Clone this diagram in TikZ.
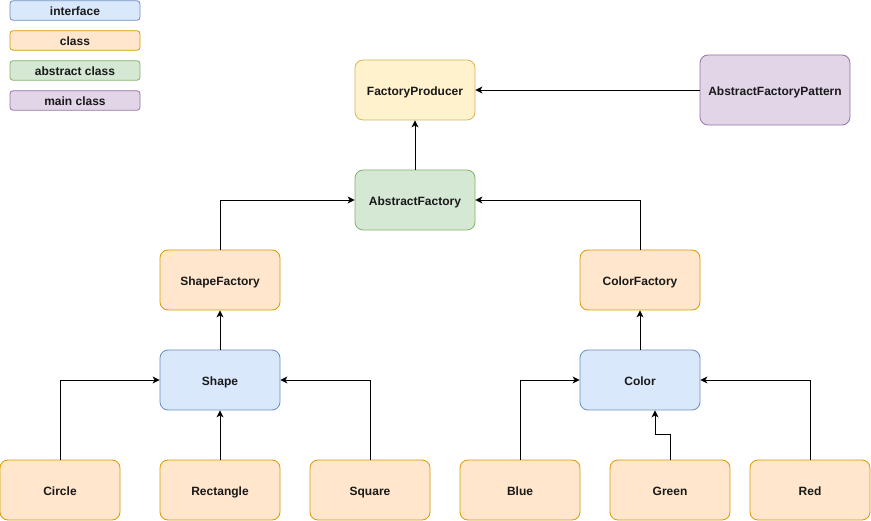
\documentclass[tikz,border=0pt]{standalone}
\usepackage{fontspec}
\setmainfont{Liberation Sans}
\usetikzlibrary{arrows.meta}
\definecolor{ifill}{HTML}{DAE8FC}\definecolor{iline}{HTML}{6C8EBF}
\definecolor{cfill}{HTML}{FFE6CC}\definecolor{cline}{HTML}{D79B00}
\definecolor{afill}{HTML}{D5E8D4}\definecolor{aline}{HTML}{82B366}
\definecolor{mfill}{HTML}{E1D5E7}\definecolor{mline}{HTML}{9673A6}
\definecolor{pfill}{HTML}{FFF2CC}\definecolor{pline}{HTML}{D6B656}
\begin{document}
\begin{tikzpicture}[x=1pt,y=-1pt,
  label text/.style={font=\fontsize{12}{14}\selectfont\bfseries,text=black!90,
    text height=10.8pt,text depth=0.6pt},
  box/.style={rounded corners=8pt,line width=0.8pt,minimum width=120pt,minimum height=60pt,
    inner sep=0pt,label text},
  legend/.style={rounded corners=3pt,line width=0.8pt,minimum width=130pt,minimum height=19.5pt,
    inner sep=0pt,label text},
  iface/.style={fill=ifill,draw=iline},
  cls/.style={fill=cfill,draw=cline},
  abs/.style={fill=afill,draw=aline},
  mainc/.style={fill=mfill,draw=mline},
  prod/.style={fill=pfill,draw=pline},
  link/.style={line width=0.9pt,-{Stealth[length=7pt,width=7pt,inset=2pt]}}]
\useasboundingbox (0,0) rectangle (871,521);
% legend
\node[legend,iface] (lgi) at (75,10.5) {interface};
\node[legend,cls] (lgc) at (75,40.5) {class};
\node[legend,abs] (lga) at (75,70.5) {abstract class};
\node[legend,mainc] (lgm) at (75,100.5) {main class};
% classes
\node[box,prod] (fp) at (415,90) {FactoryProducer};
\node[box,mainc,minimum width=150pt,minimum height=70pt] (afp) at (775,90) {AbstractFactoryPattern};
\node[box,abs] (af) at (415,200) {AbstractFactory};
\node[box,cls] (sf) at (220,280) {ShapeFactory};
\node[box,cls] (cf) at (640,280) {ColorFactory};
\node[box,iface] (shape) at (220,380) {Shape};
\node[box,iface] (color) at (640,380) {Color};
\node[box,cls] (circle) at (60,490) {Circle};
\node[box,cls] (rect) at (220,490) {Rectangle};
\node[box,cls] (square) at (370,490) {Square};
\node[box,cls] (blue) at (520,490) {Blue};
\node[box,cls] (green) at (670,490) {Green};
\node[box,cls] (red) at (810,490) {Red};
% connectors
\draw[link] (afp.west) -- (fp.east);
\draw[link] (af.north) -- (fp.south);
\draw[link] (sf.north) |- (af.west);
\draw[link] (cf.north) |- (af.east);
\draw[link] (shape.north) -- (sf.south);
\draw[link] (color.north) -- (cf.south);
\draw[link] (circle.north) |- (shape.west);
\draw[link] (rect.north) -- (shape.south);
\draw[link] (square.north) |- (shape.east);
\draw[link] (blue.north) |- (color.west);
\draw[link] (green.north) -- ++(0,-25) -| ([xshift=15pt]color.south);
\draw[link] (red.north) |- (color.east);
\end{tikzpicture}
\end{document}
